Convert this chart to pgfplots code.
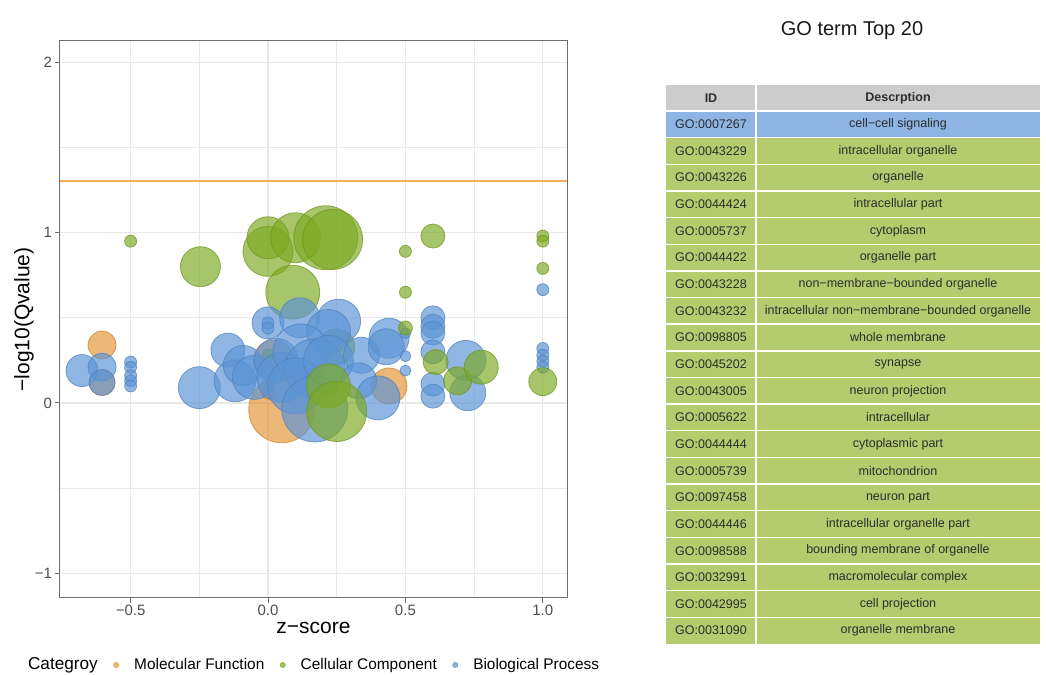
\documentclass[border=0pt]{standalone}
\usepackage{fontspec}
\setmainfont{Liberation Sans}
\usepackage{pgfplots}
\usepackage{pgfplotstable}
\pgfplotsset{compat=1.18}

\definecolor{cOrange}{RGB}{228,150,55}
\definecolor{cGreen}{RGB}{125,170,35}
\definecolor{cBlue}{RGB}{92,148,214}
\definecolor{gridc}{RGB}{232,232,232}
\definecolor{ticktext}{RGB}{77,77,77}
\definecolor{axframe}{RGB}{110,110,110}
\definecolor{refline}{RGB}{247,170,90}
\definecolor{thead}{RGB}{204,204,204}
\definecolor{tblue}{RGB}{141,180,226}
\definecolor{tgreen}{RGB}{180,203,110}
\definecolor{ttext}{RGB}{45,45,45}

% x  y  r(px)
\pgfplotstableread{
x y r
-0.604 0.34 14
-0.604 0.12 13
0.02 0.25 20
0.05 -0.04 33
0.0 0.10 6.5
0.0 0.06 6.5
0.44 0.10 18
}\mfdata

\pgfplotstableread{
x y r
-0.5 0.95 6
-0.246 0.80 20
0.0 0.89 25
0.0 0.97 21
0.1 0.97 25
0.21 0.97 32
0.235 0.96 30
0.09 0.65 27
0.25 0.33 18
0.0 0.28 6
0.5 0.89 6
0.5 0.65 6
0.6 0.98 12
1.0 0.98 6
1.0 0.95 6
1.0 0.79 6
}\ccdata

\pgfplotstableread{
x y r
0.5 0.44 7
0.22 0.10 22
0.25 -0.05 30
0.61 0.24 12.5
0.69 0.13 14
0.776 0.21 17
1.0 0.125 14
}\cctop

\pgfplotstableread{
x y r
-0.677 0.19 16
-0.604 0.21 14
-0.604 0.12 13
-0.5 0.24 6
-0.5 0.21 6
-0.5 0.16 6
-0.5 0.13 6
-0.5 0.10 6
-0.25 0.09 21
-0.146 0.31 17
-0.12 0.13 21
-0.09 0.22 20
-0.05 0.15 22
0.0 0.47 16
0.0 0.47 6
0.0 0.44 6
0.03 0.25 22
0.05 0.15 25
0.115 0.50 20
0.257 0.48 22
0.22 0.42 22
0.12 0.30 28
0.17 0.20 30
0.10 0.10 28
0.17 -0.035 33
0.22 0.25 25
0.34 0.28 18
0.33 0.13 18
0.44 0.38 20
0.43 0.33 18
0.40 0.03 22
0.5 0.41 5.5
0.5 0.275 5.5
0.5 0.19 5.5
0.6 0.50 12
0.6 0.45 12
0.6 0.41 12
0.6 0.30 12
0.6 0.11 12
0.6 0.04 12
0.72 0.25 20
0.727 0.06 18
1.0 0.665 6
1.0 0.32 6
1.0 0.28 6
1.0 0.245 6
1.0 0.21 6
}\bpdata

% threshold -log10(0.05)
\pgfplotstableread{
x y
-0.757 1.301
1.088 1.301
}\refdata

\pgfplotsset{
  bubble/.style={scatter, only marks, mark=*, forget plot,
    scatter/use mapped color={draw=#1!88!black, fill=#1},
    fill opacity=0.68, draw opacity=0.75, line width=0.4pt,
    visualization depends on={\thisrow{r}/2 \as \rad},
    scatter/@pre marker code/.append style={/tikz/mark size=\rad pt}},
  dotimg/.style={legend image code/.code={%
    \fill[#1, opacity=0.7] (0pt,0pt) circle (1.3pt);
    \node[draw=none, fill=none, inner sep=0pt, minimum width=10.3pt, minimum height=2pt, anchor=west] at (-1.3pt,0pt) {};}},
}

\begin{document}
\begin{tikzpicture}
\useasboundingbox (0,0) rectangle (523pt,337.5pt);
\begin{axis}[
  at={(30pt,38.5pt)}, anchor=south west, scale only axis,
  width=253.5pt, height=278.5pt,
  xmin=-0.757, xmax=1.088, ymin=-1.145, ymax=2.125,
  xtick={-0.5,0,0.5,1}, xticklabels={−0.5,0.0,0.5,1.0},
  ytick={-1,0,1,2}, yticklabels={−1,0,1,2},
  minor xtick={-0.25,0.25,0.75}, minor ytick={-0.5,0.5,1.5},
  xmajorgrids=true, ymajorgrids=true, xminorgrids=true, yminorgrids=true,
  every major grid/.style={draw=gridc, line width=0.55pt},
  every minor grid/.style={draw=gridc, line width=0.35pt},
  tick align=outside, major tick length=2.5pt, minor tick length=0pt,
  xtick pos=bottom, ytick pos=left,
  major tick style={draw=axframe, line width=0.5pt},
  axis line style={draw=axframe, line width=0.5pt},
  ticklabel style={font=\fontsize{7.5}{9}\selectfont, text=ticktext},
  xticklabel style={yshift=2.5pt},
  yticklabel style={xshift=2pt},
  xlabel={z−score}, ylabel={−log10(Qvalue)},
  label style={font=\fontsize{10.5}{12}\selectfont},
  xlabel style={at={(axis description cs:0.5,-0.054)}, anchor=center},
  ylabel style={at={(axis description cs:-0.071,0.5)}, anchor=center},
  legend columns=-1,
  legend style={at={(axis description cs:-0.063,-0.1203)}, anchor=west,
    draw=none, fill=none, inner sep=0pt, outer sep=0pt,
    font=\fontsize{7.7}{9}\selectfont,
    nodes={inner xsep=0pt, inner ysep=1pt},
    /tikz/every even column/.append style={column sep=7.7pt}},
  legend cell align=left,
]
\addplot[refline, line width=0.9pt, no markers, forget plot] table {\refdata};

\addplot[bubble=cOrange] table {\mfdata};
\addplot[bubble=cGreen] table {\ccdata};
\addplot[bubble=cBlue] table {\bpdata};
\addplot[bubble=cGreen] table {\cctop};

\addlegendimage{empty legend}
\addlegendentry{\fontsize{8.6}{10}\selectfont Categroy}
\addlegendimage{dotimg=cOrange}
\addlegendentry{Molecular Function}
\addlegendimage{dotimg=cGreen}
\addlegendentry{Cellular Component}
\addlegendimage{dotimg=cBlue}
\addlegendentry{Biological Process}
\end{axis}

% ---- title and table ----
\node[font=\fontsize{10}{12}\selectfont, text=black!90] at (426pt,322pt) {GO term Top 20};

\def\tl{333pt}\def\tm{378pt}\def\tr{520pt}
\fill[thead] (\tl,295pt) rectangle (\tr,282pt);
\node[font=\fontsize{6.25}{7.5}\selectfont\bfseries, text=ttext] at (355.5pt,288.5pt) {ID};
\node[font=\fontsize{6.25}{7.5}\selectfont\bfseries, text=ttext] at (449pt,288.5pt) {Descrption};
\foreach \id/\desc [count=\i] in {
  GO:0007267/cell−cell signaling,
  GO:0043229/intracellular organelle,
  GO:0043226/organelle,
  GO:0044424/intracellular part,
  GO:0005737/cytoplasm,
  GO:0044422/organelle part,
  GO:0043228/non−membrane−bounded organelle,
  GO:0043232/intracellular non−membrane−bounded organelle,
  GO:0098805/whole membrane,
  GO:0045202/synapse,
  GO:0043005/neuron projection,
  GO:0005622/intracellular,
  GO:0044444/cytoplasmic part,
  GO:0005739/mitochondrion,
  GO:0097458/neuron part,
  GO:0044446/intracellular organelle part,
  GO:0098588/bounding membrane of organelle,
  GO:0032991/macromolecular complex,
  GO:0042995/cell projection,
  GO:0031090/organelle membrane}{
  \pgfmathsetmacro{\top}{282-(\i-1)*13.325}
  \pgfmathsetmacro{\bot}{\top-13.325}
  \pgfmathsetmacro{\mid}{\top-6.66}
  \ifnum\i=1 \def\rc{tblue}\else\def\rc{tgreen}\fi
  \fill[\rc] (\tl,\top pt) rectangle (\tr,\bot pt);
  \draw[white, line width=0.7pt] (\tl,\top pt) -- (\tr,\top pt);
  \node[font=\fontsize{6.25}{7.5}\selectfont, text=ttext] at (355.5pt,\mid pt) {\id};
  \node[font=\fontsize{6.25}{7.5}\selectfont, text=ttext] at (449pt,\mid pt) {\desc};
}
\draw[white, line width=0.7pt] (\tm,295pt) -- (\tm,15.5pt);
\end{tikzpicture}
\end{document}
